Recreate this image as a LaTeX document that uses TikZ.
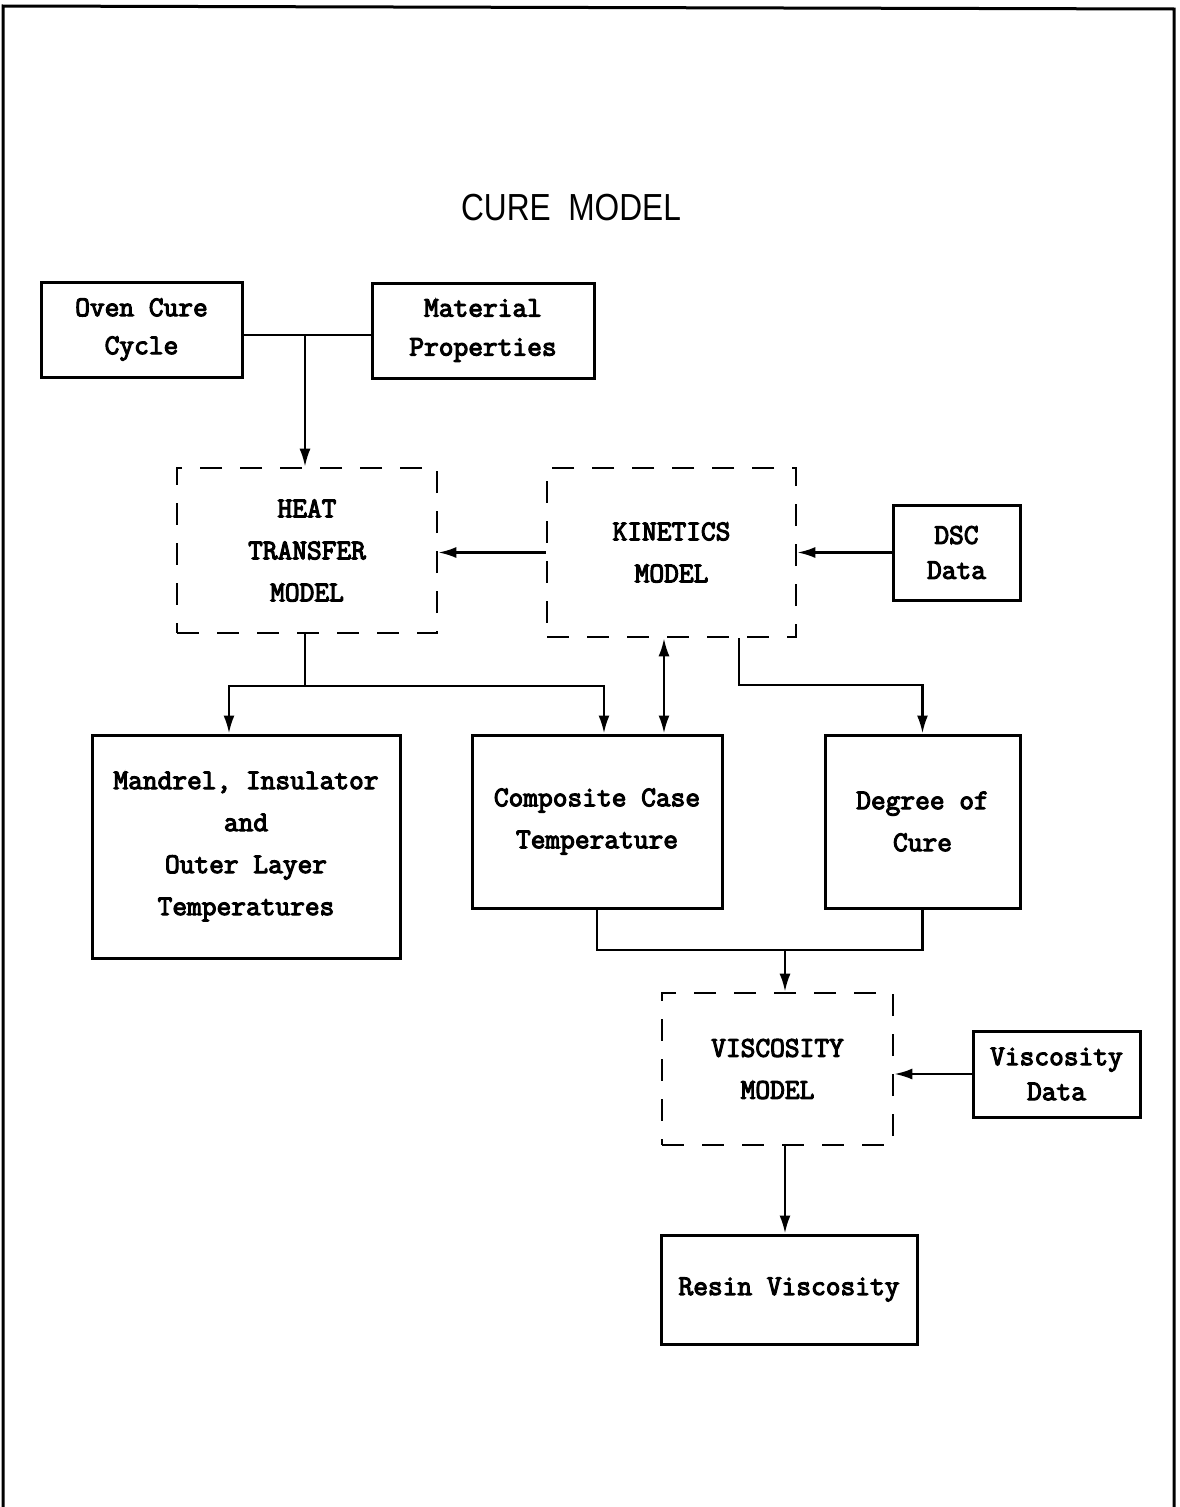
\documentclass[tikz,border=0pt]{standalone}
\usepackage{fontspec}
\usetikzlibrary{arrows.meta}
\newfontfamily\titlef{Liberation Sans}
\newcommand\tl[1]{\special{pdf:literal direct 2 Tr 1.1 w}#1\special{pdf:literal direct 0 Tr}}
\begin{document}
\begin{tikzpicture}[x=1pt,y=-1pt,
  solidbox/.style={draw, line width=3pt, inner sep=0pt, align=center,
    font=\ttfamily\fontsize{28.6}{42}\selectfont},
  dashbox/.style={solidbox, line width=2.6pt, dash pattern=on 22pt off 18pt},
  conn/.style={line width=2.4pt},
  arr/.style={conn, -{Latex[length=18pt,width=11pt]}},
  darr/.style={conn, {Latex[length=18pt,width=11pt]}-{Latex[length=18pt,width=11pt]}}]
\useasboundingbox (0,0) rectangle (1179,1507);
% frame
\draw[line width=3pt] (3,1507) -- (3,6) -- (1174,9) -- (1174,1507);
% title
\node[font=\titlef\fontsize{37.7}{40}\selectfont, anchor=base] (title) at (571,220) {\scalebox{0.84}[1]{CURE\ \ MODEL}};
% boxes
\node[solidbox, minimum width=201pt, minimum height=95pt, font=\ttfamily\fontsize{28.6}{38}\selectfont] (oven) at (141.5,329.5) {\tl{Oven Cure}\\\tl{Cycle}};
\node[solidbox, minimum width=222pt, minimum height=95pt, font=\ttfamily\fontsize{28.6}{39}\selectfont] (mat) at (483,330.5) {\tl{Material}\\\tl{Properties}};
\node[dashbox, minimum width=260pt, minimum height=165pt] (heat) at (307,550.5) {\tl{HEAT}\\\tl{TRANSFER}\\\tl{MODEL}};
\node[dashbox, minimum width=249pt, minimum height=169pt] (kin) at (671.5,552.5) {\tl{KINETICS}\\\tl{MODEL}};
\node[solidbox, minimum width=127pt, minimum height=95pt, font=\ttfamily\fontsize{28.6}{35}\selectfont] (dsc) at (956.5,552.5) {\tl{DSC}\\\tl{Data}};
\node[solidbox, minimum width=308pt, minimum height=223pt] (mand) at (246,846.5) {\tl{Mandrel, Insulator}\\\tl{and}\\\tl{Outer Layer}\\\tl{Temperatures}};
\node[solidbox, minimum width=250pt, minimum height=173pt] (comp) at (597,821.5) {\tl{Composite Case}\\\tl{Temperature}};
\node[solidbox, minimum width=195pt, minimum height=173pt] (deg) at (922.5,821.5) {\tl{Degree of}\\\tl{Cure}};
\node[dashbox, minimum width=231pt, minimum height=152pt] (visc) at (777.5,1069) {\tl{VISCOSITY}\\\tl{MODEL}};
\node[solidbox, minimum width=167pt, minimum height=86pt, font=\ttfamily\fontsize{28.6}{35}\selectfont] (vdata) at (1056.5,1074) {\tl{Viscosity}\\\tl{Data}};
\node[solidbox, minimum width=256pt, minimum height=109pt] (resin) at (789,1289.5) {\tl{Resin Viscosity}};
% helper coordinates
\coordinate (j1) at (305,335);
\coordinate (j2) at (305,686);
\coordinate (xa) at (229,0);
\coordinate (xb) at (604,0);
\coordinate (xc) at (664,0);
\coordinate (xd) at (739,0);
\coordinate (yk) at (0,685);
\coordinate (jv) at (785,950);
% connectors
\draw[conn] (oven.east |- j1) -- (mat.west |- j1);
\draw[arr] (j1) -- (heat.north -| j1);
\draw[arr] (kin.west) -- (heat.east |- kin.west);
\draw[arr] (dsc.west) -- (kin.east |- dsc.west);
\draw[conn] (heat.south -| j2) -- (j2);
\draw[arr] (j2) -| (mand.north -| xa);
\draw[arr] (j2) -| (comp.north -| xb);
\draw[darr] (kin.south -| xc) -- (comp.north -| xc);
\draw[arr] (kin.south -| xd) |- (deg.north |- yk) -- (deg.north);
\draw[conn] (comp.south) |- (jv) -| (deg.south);
\draw[arr] (jv) -- (visc.north -| jv);
\draw[arr] (vdata.west) -- (visc.east |- vdata.west);
\draw[arr] (visc.south -| jv) -- (resin.north -| jv);
\end{tikzpicture}
\end{document}
